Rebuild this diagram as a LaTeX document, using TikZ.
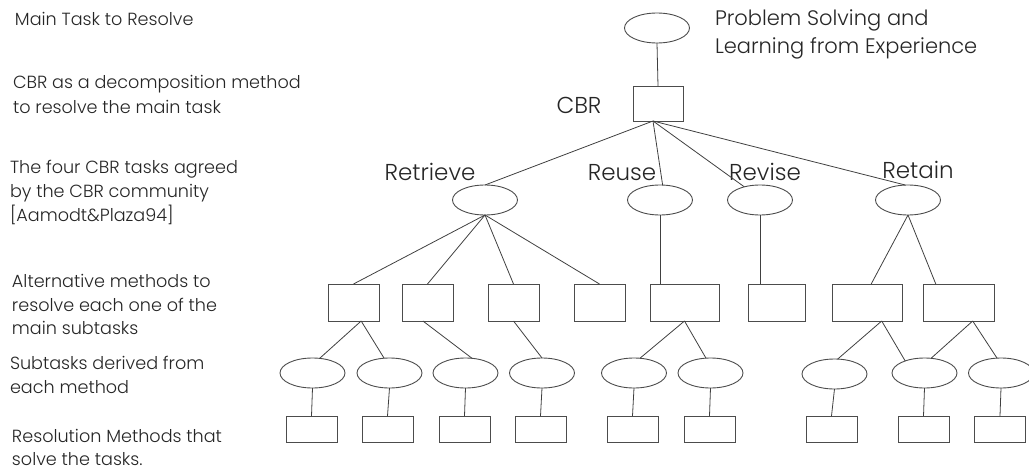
\documentclass[tikz,border=0pt]{standalone}
\usepackage{fontspec}
\setmainfont{Poppins}[UprightFont=* Light]
\usetikzlibrary{shapes.geometric,calc}
\begin{document}
\begin{tikzpicture}[x=1pt,y=-1pt,
  every node/.style={inner sep=0pt, outer sep=0pt},
  task/.style={draw=black!70, line width=0.9pt, ellipse, minimum width=65pt, minimum height=30pt},
  method/.style={draw=black!70, line width=0.9pt, rectangle, minimum height=37pt},
  leaf/.style={draw=black!70, line width=0.9pt, rectangle, minimum width=51pt, minimum height=26pt},
  link/.style={draw=black!75, line width=0.8pt},
  note/.style={anchor=base west, text=black!85, font=\fontsize{17.6}{21}\selectfont},
  big/.style={anchor=base, text=black!85, font=\fontsize{23}{27}\selectfont},
  head/.style={anchor=base west, text=black!85, font=\fontsize{21}{25}\selectfont},
]
\useasboundingbox (0,0) rectangle (1029,471);

% --- level descriptions on the left ---
\node[note] (n1)  at (15,25)  {Main Task to Resolve};
\node[note] (n2a) at (13,88)  {CBR as a decomposition method};
\node[note] (n2b) at (13,113) {to resolve the main task};
\node[note] (n3a) at (10,173) {The four CBR tasks agreed};
\node[note] (n3b) at (10,197) {by the CBR community};
\node[note] (n3c) at (10,221) {[Aamodt\&Plaza94]};
\node[note] (n4a) at (12,287) {Alternative methods to};
\node[note] (n4b) at (12,311) {resolve each one of the};
\node[note] (n4c) at (12,334) {main subtasks};
\node[note] (n5a) at (10,369) {Subtasks derived from};
\node[note] (n5b) at (10,393) {each method};
\node[note] (n6a) at (12,442) {Resolution Methods that};
\node[note] (n6b) at (12,465) {solve the tasks.};

% --- main task and CBR method ---
\node[task] (goal) at (657,28) {};
\node[head] (goalA) at (715,25) {Problem Solving and};
\node[head] (goalB) at (715,53) {Learning from Experience};
\node[draw=black!70, line width=0.9pt, minimum width=50pt, minimum height=35pt] (cbr) at (658,103.5) {};
\node[big] (cbrlab) at (579,113) {CBR};
\coordinate (cbrfoot) at ($(cbr.south west)!0.4!(cbr.south east)$);

% --- the four CBR tasks ---
\node[task] (retrieve) at (485,200) {};
\node[task] (reuse)    at (660,200) {};
\node[task] (revise)   at (760,200) {};
\node[task] (retain)   at (908,200) {};
\node[big] (lret) at (430,180) {Retrieve};
\node[big] (lreu) at (622,180) {Reuse};
\node[big] (lrev) at (765,180) {Revise};
\node[big] (lrtn) at (918,178) {Retain};

% --- alternative methods ---
\node[method, minimum width=51pt] (m1) at (353.5,302.5) {};
\node[method, minimum width=51pt] (m2) at (427.5,302.5) {};
\node[method, minimum width=51pt] (m3) at (513.5,302.5) {};
\node[method, minimum width=51pt] (m4) at (599.5,302.5) {};
\node[method, minimum width=69pt] (m5) at (684.5,302.5) {};
\node[method, minimum width=57pt] (m6) at (776.5,302.5) {};
\node[method, minimum width=70pt] (m7) at (867,302.5) {};
\node[method, minimum width=71pt] (m8) at (958.5,302.5) {};

% --- derived subtasks ---
\node[task] (e1) at (312.5,373) {};
\node[task] (e2) at (389.5,373) {};
\node[task] (e3) at (465.5,373) {};
\node[task] (e4) at (542,373) {};
\node[task] (e5) at (634,373) {};
\node[task] (e6) at (710.5,373) {};
\node[task] (e7) at (834.5,374) {};
\node[task] (e8) at (924.5,373) {};
\node[task] (e9) at (1001,373) {};

% --- resolution methods ---
\node[leaf] (b1) at (311.5,429) {};
\node[leaf] (b2) at (387.5,429) {};
\node[leaf] (b3) at (464.5,429) {};
\node[leaf] (b4) at (540.5,429) {};
\node[leaf] (b5) at (632.5,429) {};
\node[leaf] (b6) at (709.5,429) {};
\node[leaf] (b7) at (831.5,429) {};
\node[leaf] (b8) at (923.5,429) {};
\node[leaf] (b9) at (1000,429) {};

% --- connectors ---
\draw[link] (goal.south) -- (cbr.north);
\draw[link] (cbrfoot) -- (retrieve.north);
\draw[link] (cbrfoot) -- (reuse.80);
\draw[link] (cbrfoot) -- (revise.140);
\draw[link] (cbrfoot) -- (retain.100);

\draw[link] (retrieve.south) -- (m1.north);
\draw[link] (retrieve.south) -- (m2.north);
\draw[link] (retrieve.south) -- (m3.north);
\draw[link] (retrieve.south) -- (m4.north);
\draw[link] (reuse.south) -- (reuse.south |- m5.north);
\draw[link] (revise.south) -- (revise.south |- m6.north);
\draw[link] (retain.south) -- ($(m7.north west)!0.56!(m7.north east)$);
\draw[link] (retain.south) -- ($(m8.north west)!0.18!(m8.north east)$);

\draw[link] ($(m1.south west)!0.65!(m1.south east)$) -- (e1.64);
\draw[link] ($(m1.south west)!0.65!(m1.south east)$) -- (e2.110);
\draw[link] ($(m2.south west)!0.41!(m2.south east)$) -- (e3.66);
\draw[link] (m3.south) -- (e4.north);
\draw[link] (m5.south) -- (e5.68);
\draw[link] (m5.south) -- (e6.107);
\draw[link] ($(m7.south west)!0.71!(m7.south east)$) -- (e7.78);
\draw[link] ($(m7.south west)!0.71!(m7.south east)$) -- (e8.148);
\draw[link] ($(m8.south west)!0.70!(m8.south east)$) -- (e8.66);
\draw[link] ($(m8.south west)!0.70!(m8.south east)$) -- (e9.105);

\foreach \i in {1,...,9} {
  \draw[link] (e\i.south) -- (b\i.north);
}
\end{tikzpicture}
\end{document}
